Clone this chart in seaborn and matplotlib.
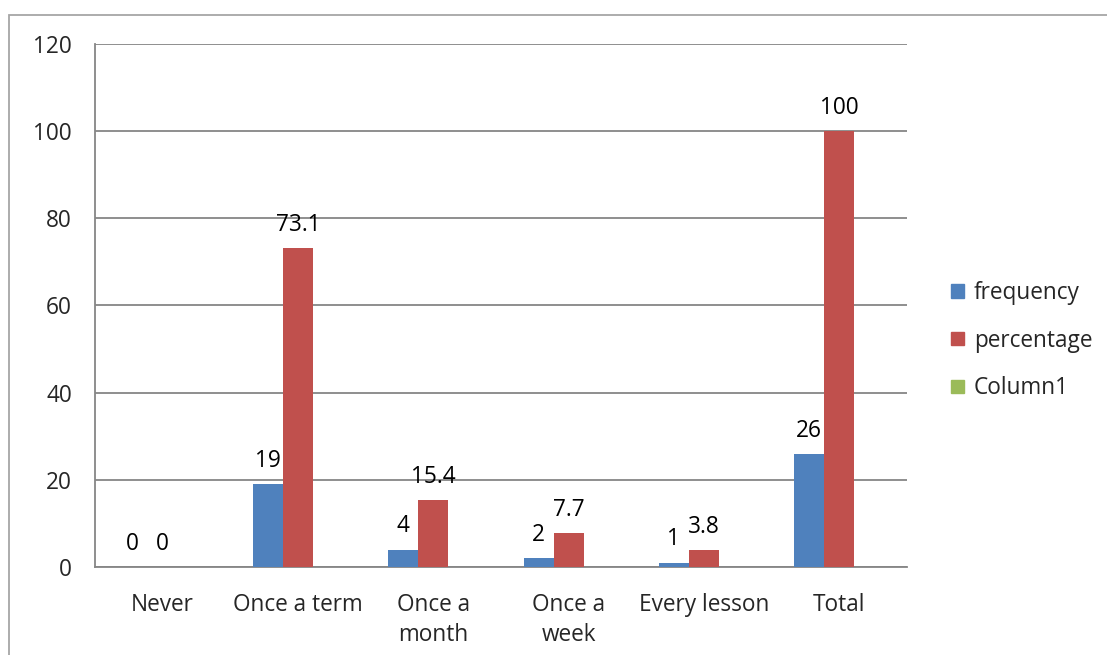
import matplotlib
matplotlib.use("Agg")
import matplotlib.pyplot as plt
import matplotlib.patches as mpatches
import numpy as np
import pandas as pd
import seaborn as sns

categories = ["Never", "Once a term", "Once a\nmonth", "Once a\nweek", "Every lesson", "Total"]
frequency = [0, 19, 4, 2, 1, 26]
percentage = [0, 73.1, 15.4, 7.7, 3.8, 100]
column1 = [np.nan] * 6
series_names = ["frequency", "percentage", "Column1"]
colors = ["#4F81BD", "#C0504D", "#9BBB59"]

df = pd.DataFrame({
    "category": categories * 3,
    "series": [s for s in series_names for _ in categories],
    "value": frequency + percentage + column1,
})

sns.set_style("white")
plt.rcParams["font.family"] = ["Open Sans", "DejaVu Sans"]
FS = 16.3

fig = plt.figure(figsize=(11.07, 6.55), dpi=100)
ax = fig.add_axes([0.0858, 0.1344, 0.7335, 0.7984])

sns.barplot(data=df, x="category", y="value", hue="series", order=categories,
            hue_order=series_names, palette=colors, width=0.667, saturation=1,
            linewidth=0, ax=ax, legend=False, zorder=3)

# value labels for the two populated series
for cont, vals in zip(ax.containers[:2], [frequency, percentage]):
    labels = [f"{v:g}" for v in vals]
    ax.bar_label(cont, labels=labels, padding=8, fontsize=FS, color="black")

ax.set_ylim(0, 120)
ax.set_xlim(-0.5, len(categories) - 0.5)
ax.set_yticks(np.arange(0, 121, 20))
ax.yaxis.grid(True, color="#868686", linewidth=1.3, zorder=0)
ax.set_axisbelow(True)
ax.set_xlabel("")
ax.set_ylabel("")

for side in ["top", "right"]:
    ax.spines[side].set_visible(False)
for side in ["left", "bottom"]:
    ax.spines[side].set_color("#868686")
    ax.spines[side].set_linewidth(1.3)

# category boundary ticks on x, outward ticks on y
ax.set_xticks(np.arange(len(categories)))
ax.set_xticklabels(categories, fontsize=FS, linespacing=1.3)
ax.tick_params(axis="x", length=0, pad=19)
ax.set_xticks(np.arange(-0.5, len(categories), 1), minor=True)
ax.tick_params(axis="x", which="minor", length=6, width=1.3, color="#868686", direction="out")
ax.tick_params(axis="y", length=6.5, width=1.3, color="#868686", direction="out",
               labelsize=FS, pad=10)

handles = [mpatches.Patch(color=c, label=s) for c, s in zip(colors, series_names)]
fig.legend(handles=handles, loc="center left", bbox_to_anchor=(0.841, 0.48),
           frameon=False, fontsize=FS, handlelength=0.55, handleheight=0.55,
           handletextpad=0.45, labelspacing=1.05)

# chart area border
fig.add_artist(mpatches.Rectangle((9 / 1107, -0.1), 1.2, (655 - 15) / 655 + 0.1,
                                  transform=fig.transFigure, fill=False,
                                  edgecolor="#a6a6a6", linewidth=1.3))

fig.savefig("out.png", dpi=100, facecolor="white")
